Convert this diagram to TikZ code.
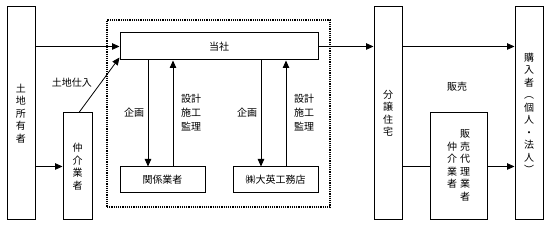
\documentclass[tikz,border=0pt]{standalone}
\usepackage{fontspec}
\setmainfont{Noto Sans CJK JP}
\usepackage{tikz}
\usetikzlibrary{positioning,arrows.meta,calc}
\tikzset{
  box/.style={draw=black, line width=1pt, align=center, inner sep=0pt, font=\fontsize{10}{12.5}\selectfont},
  tallbox/.style={box, minimum width=28pt, minimum height=213pt},
  flatbox/.style={box, minimum width=85pt, minimum height=26pt},
  frame/.style={draw=black, line width=2pt, dash pattern=on 1.2pt off 1pt, minimum width=223pt, minimum height=187pt, inner sep=0pt},
  arr/.style={-{Triangle[length=7.5pt,width=6.5pt]}, line width=0.8pt, draw=black},
  lbl/.style={align=center, inner sep=0pt, font=\fontsize{10}{14}\selectfont},
}
\begin{document}
\begin{tikzpicture}[x=1pt,y=1pt]
  \useasboundingbox (0,0) rectangle (550,227);
  \node[tallbox] (owner) at (21,113.5) {土\\地\\所\\有\\者};
  \node[box, minimum width=29pt, minimum height=107pt] (agent) at (77.5,60.5) {仲\\介\\業\\者};
  \node[frame] (group) at (218.5,113.5) {};
  \node[box, minimum width=198pt, minimum height=27pt] (company) at (219,180.5) {当社};
  \node[flatbox] (partners) at (162.5,47) {関係業者};
  \node[flatbox] (builder) at (275.5,47) {㈱大英工務店};
  \node[tallbox] (housing) at (388,113.5) {分\\譲\\住\\宅};
  \node[tallbox] (buyer) at (529,113.5) {購\\入\\者\\︵\\個\\人\\・\\法\\人\\︶};
  \node[box, minimum width=57pt, minimum height=107pt] (sales) at (458.5,60.5)
    {\begin{tabular}[c]{@{}c@{}}仲\\介\\業\\者\end{tabular}\hspace{3pt}\begin{tabular}[c]{@{}c@{}}販\\売\\代\\理\\業\\者\end{tabular}};

  % land purchase
  \draw[arr] (owner.east |- company.west) -- (company.west);
  \draw[arr] (owner.east |- agent.west) -- (agent.west);
  \draw[arr] ($(agent.north)+(1.5,0)$) -- ($(company.south west)+(0,3)$);
  \node[lbl] (buy) at (72,144) {土地仕入};

  % planning and construction
  \foreach \n in {partners,builder}{
    \draw[arr] ($(\n.north |- company.south)+(-14.5,0)$) -- ($(\n.north)+(-14.5,0)$);
    \draw[arr] ($(\n.north)+(10.5,0)$) -- ($(\n.north |- company.south)+(10.5,0)$);
    \node[lbl] (plan-\n) at ($(\n.center)+(-28.5,67)$) {企画};
    \node[lbl] (work-\n) at ($(\n.center)+(28.5,67)$) {設計\\施工\\監理};
  }

  % sales
  \draw[arr] (company.east) -- (company.east -| housing.west);
  \draw[arr] (housing.east |- company.east) -- (buyer.west |- company.east);
  \draw[line width=0.8pt] (housing.east |- sales.west) -- (sales.west);
  \draw[arr] (sales.east) -- (sales.east -| buyer.west);
  \node[lbl] (sell) at (457,140) {販売};
\end{tikzpicture}
\end{document}
